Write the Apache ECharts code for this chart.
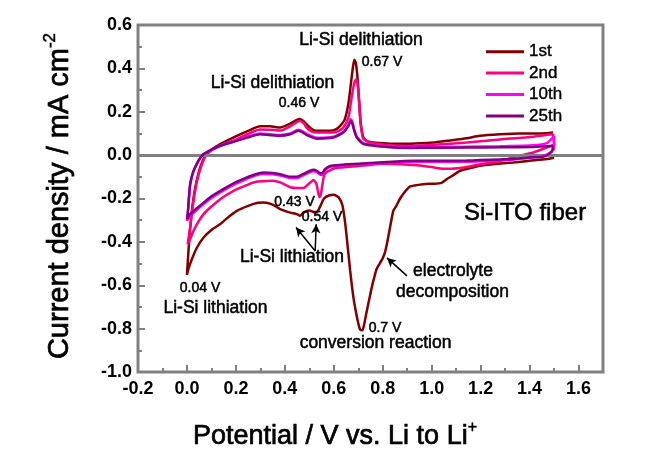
<!DOCTYPE html>
<html><head><meta charset="utf-8">
<script src="https://cdn.jsdelivr.net/npm/echarts/dist/echarts.min.js"></script>
<style>html,body{margin:0;padding:0;background:#fff}#c{width:659px;height:460px}</style>
</head><body><div id="c"></div>
<script>
const seriesNames = ['1st', '2nd', '10th', '25th'];
const seriesColors = ['#800000', '#FF0080', '#FF00FF', '#800080'];
const xTicks = [-0.2, 0.0, 0.2, 0.4, 0.6, 0.8, 1.0, 1.2, 1.4, 1.6];
const yTicks = [-1.0, -0.8, -0.6, -0.4, -0.2, 0.0, 0.2, 0.4, 0.6];

const cycle1 = [
 [1.50,-0.012],[1.47,-0.018],[1.40,-0.026],[1.333,-0.034],[1.25,-0.042],[1.197,-0.049],[1.15,-0.062],[1.116,-0.072],
 [1.085,-0.095],[1.061,-0.111],[1.040,-0.128],[1.010,-0.132],[0.975,-0.133],[0.952,-0.136],[0.930,-0.140],[0.911,-0.145],
 [0.890,-0.170],[0.871,-0.200],[0.855,-0.235],[0.843,-0.257],[0.823,-0.375],[0.810,-0.445],[0.800,-0.475],[0.785,-0.505],
 [0.775,-0.525],[0.765,-0.565],[0.755,-0.611],[0.745,-0.665],[0.735,-0.718],[0.725,-0.775],[0.717,-0.808],[0.708,-0.805],
 [0.700,-0.775],[0.690,-0.720],[0.680,-0.655],[0.667,-0.534],[0.653,-0.380],[0.645,-0.300],[0.635,-0.230],[0.620,-0.195],
 [0.600,-0.183],[0.580,-0.186],[0.560,-0.200],[0.545,-0.235],[0.530,-0.265],[0.517,-0.262],[0.500,-0.255],[0.476,-0.265],
 [0.462,-0.280],[0.449,-0.272],[0.422,-0.265],[0.381,-0.249],[0.350,-0.228],[0.313,-0.219],[0.290,-0.220],[0.250,-0.234],
 [0.204,-0.257],[0.170,-0.285],[0.136,-0.318],[0.100,-0.345],[0.068,-0.380],[0.041,-0.426],[0.020,-0.480],[0.006,-0.525],
 [0.000,-0.552],
 [0.004,-0.480],[0.010,-0.380],[0.020,-0.257],[0.034,-0.149],[0.054,-0.057],[0.075,-0.003],[0.100,0.025],[0.136,0.051],
 [0.204,0.089],[0.250,0.112],[0.299,0.133],[0.340,0.133],[0.381,0.127],[0.422,0.145],[0.445,0.160],[0.463,0.166],
 [0.478,0.155],[0.490,0.140],[0.510,0.120],[0.531,0.112],[0.585,0.112],[0.610,0.120],[0.626,0.135],[0.645,0.165],
 [0.660,0.240],[0.670,0.330],[0.678,0.404],[0.684,0.440],[0.690,0.425],[0.696,0.370],[0.703,0.260],[0.710,0.150],
 [0.721,0.081],[0.740,0.062],[0.762,0.058],[0.830,0.053],[0.911,0.053],[1.007,0.058],[1.061,0.066],[1.143,0.078],
 [1.197,0.089],[1.279,0.096],[1.360,0.100],[1.415,0.100],[1.470,0.101],[1.496,0.104]
];

const cycle2 = [
 [1.496,0.097],[1.50,0.050],[1.47,0.035],[1.415,0.012],[1.333,-0.010],[1.279,-0.028],[1.197,-0.042],[1.143,-0.055],
 [1.080,-0.063],[1.047,-0.063],[1.000,-0.055],[0.939,-0.047],[0.871,-0.042],[0.789,-0.040],[0.748,-0.045],[0.700,-0.050],
 [0.626,-0.057],[0.600,-0.062],[0.585,-0.070],[0.571,-0.078],[0.560,-0.095],[0.553,-0.140],[0.547,-0.180],[0.541,-0.194],
 [0.535,-0.165],[0.528,-0.130],[0.517,-0.115],[0.505,-0.125],[0.490,-0.140],[0.476,-0.152],[0.449,-0.152],[0.422,-0.148],
 [0.381,-0.126],[0.350,-0.118],[0.327,-0.119],[0.300,-0.121],[0.272,-0.126],[0.240,-0.140],[0.204,-0.157],[0.170,-0.178],
 [0.136,-0.203],[0.100,-0.237],[0.068,-0.272],[0.045,-0.310],[0.027,-0.349],[0.012,-0.390],[0.003,-0.411],
 [0.007,-0.380],[0.013,-0.334],[0.020,-0.270],[0.027,-0.211],[0.041,-0.119],[0.061,-0.042],[0.082,0.005],[0.105,0.025],
 [0.136,0.043],[0.204,0.074],[0.250,0.098],[0.299,0.118],[0.340,0.117],[0.381,0.113],[0.422,0.133],[0.445,0.150],
 [0.463,0.157],[0.478,0.145],[0.490,0.125],[0.510,0.108],[0.531,0.104],[0.598,0.104],[0.620,0.112],[0.639,0.127],
 [0.660,0.174],[0.673,0.266],[0.684,0.335],[0.692,0.350],[0.698,0.320],[0.703,0.250],[0.708,0.160],[0.715,0.100],
 [0.721,0.075],[0.748,0.058],[0.830,0.045],[0.911,0.042],[1.007,0.048],[1.143,0.058],[1.279,0.072],[1.415,0.085],
 [1.496,0.097]
];

const cycle10 = [
 [1.50,0.088],[1.50,0.030],[1.47,0.002],[1.415,-0.010],[1.333,-0.020],[1.279,-0.024],[1.197,-0.028],[1.143,-0.030],
 [1.007,-0.031],[0.925,-0.031],[0.871,-0.032],[0.800,-0.036],[0.700,-0.043],[0.626,-0.048],[0.585,-0.054],[0.564,-0.070],
 [0.551,-0.092],[0.541,-0.088],[0.531,-0.078],[0.517,-0.074],[0.503,-0.078],[0.485,-0.088],[0.469,-0.096],[0.449,-0.106],
 [0.422,-0.106],[0.381,-0.094],[0.350,-0.088],[0.313,-0.087],[0.280,-0.094],[0.245,-0.109],[0.200,-0.132],[0.136,-0.172],
 [0.100,-0.198],[0.068,-0.226],[0.040,-0.253],[0.013,-0.281],[0.000,-0.303],
 [0.004,-0.265],[0.007,-0.215],[0.013,-0.140],[0.020,-0.100],[0.027,-0.074],[0.047,-0.027],[0.068,0.004],[0.100,0.026],
 [0.136,0.045],[0.204,0.069],[0.250,0.086],[0.299,0.100],[0.340,0.096],[0.381,0.093],[0.422,0.100],[0.456,0.117],
 [0.475,0.108],[0.490,0.097],[0.531,0.080],[0.598,0.085],[0.639,0.108],[0.660,0.141],[0.669,0.165],[0.676,0.152],
 [0.683,0.120],[0.694,0.085],[0.721,0.054],[0.830,0.039],[0.911,0.036],[1.007,0.037],[1.143,0.039],[1.279,0.041],
 [1.415,0.045],[1.470,0.055],[1.500,0.088]
];

const cycle25 = [
 [1.496,0.043],[1.49,0.015],[1.456,-0.008],[1.415,-0.010],[1.333,-0.018],[1.279,-0.020],[1.197,-0.023],[1.143,-0.025],
 [1.007,-0.026],[0.925,-0.026],[0.871,-0.028],[0.800,-0.033],[0.700,-0.040],[0.626,-0.045],[0.585,-0.050],[0.564,-0.065],
 [0.551,-0.085],[0.541,-0.082],[0.531,-0.072],[0.517,-0.068],[0.503,-0.072],[0.485,-0.082],[0.469,-0.090],[0.449,-0.100],
 [0.422,-0.100],[0.381,-0.088],[0.350,-0.082],[0.313,-0.080],[0.280,-0.088],[0.245,-0.103],[0.200,-0.125],[0.136,-0.165],
 [0.100,-0.190],[0.068,-0.219],[0.040,-0.245],[0.013,-0.272],[0.000,-0.295],
 [0.004,-0.260],[0.007,-0.211],[0.013,-0.134],[0.020,-0.098],[0.027,-0.072],[0.047,-0.026],[0.068,0.005],[0.100,0.025],
 [0.136,0.043],[0.204,0.066],[0.250,0.082],[0.299,0.096],[0.340,0.092],[0.381,0.089],[0.422,0.096],[0.456,0.112],
 [0.475,0.103],[0.490,0.092],[0.531,0.076],[0.598,0.081],[0.639,0.104],[0.660,0.135],[0.669,0.158],[0.676,0.145],
 [0.683,0.115],[0.694,0.081],[0.721,0.051],[0.830,0.036],[0.911,0.033],[1.007,0.034],[1.143,0.035],[1.279,0.036],
 [1.415,0.038],[1.496,0.043]
];

const cycles = [cycle1, cycle2, cycle10, cycle25];

// annotation arrows (data coordinates: tail -> head)
const arrowTail1 = [0.524, -0.442], arrowHead1 = [0.446, -0.334];
const arrowTail2 = [0.524, -0.442], arrowHead2 = [0.528, -0.319];
const arrowTail3 = [0.899, -0.557], arrowHead3 = [0.8175, -0.474];

const FF = '"Liberation Sans", Arial, sans-serif';
const chart = echarts.init(document.getElementById('c'), null, {renderer: 'canvas'});
const fmt = v => { const r = Math.round(v * 10) / 10; return (Math.abs(r) < 1e-9 ? 0 : r).toFixed(1); };
const xLabelSet = new Set(xTicks.map(fmt));
const yLabelSet = new Set(yTicks.map(fmt));

const series = cycles.map((d, i) => ({
  name: seriesNames[i], type: 'line', data: d, xAxisIndex: 0, yAxisIndex: 0,
  showSymbol: false, symbol: 'none', smooth: 0.2,
  lineStyle: {color: seriesColors[i], width: 2.5}, itemStyle: {color: seriesColors[i]},
  z: 3 + i
}));
series[0].markLine = {
  silent: true, animation: false, symbol: ['none', 'arrow'], symbolSize: [7, 9],
  label: {show: false}, lineStyle: {color: '#000', width: 1.5, type: 'solid'},
  data: [
    [{coord: arrowTail1}, {coord: arrowHead1}],
    [{coord: arrowTail2}, {coord: arrowHead2}],
    [{coord: arrowTail3}, {coord: arrowHead3}]
  ]
};
series.push({
  name: 'zero', type: 'line', data: [], z: 2, silent: true,
  markLine: {silent: true, animation: false, symbol: ['none', 'none'], label: {show: false},
    lineStyle: {color: '#808080', width: 3, type: 'solid'}, data: [{yAxis: 0}]}
});

const STROKE = {stroke: '#000', lineWidth: 0.5};
function txt(text, x, y, size) {
  return {type: 'text', x: x, y: y, z: 100, silent: true,
    style: Object.assign({text: text, align: 'center', verticalAlign: 'middle', fill: '#000',
      font: size + 'px ' + FF}, STROKE)};
}

chart.setOption({
  animation: false,
  backgroundColor: '#fff',
  grid: {left: 138, right: 56, top: 25, bottom: 88, show: true, borderColor: '#808080', borderWidth: 3, backgroundColor: 'transparent'},
  legend: {
    data: seriesNames, orient: 'vertical', left: 481, top: 38, icon: 'rect',
    itemWidth: 38, itemHeight: 3, itemGap: 4,
    textStyle: {fontSize: 17, lineHeight: 17, color: '#000', fontFamily: FF, textBorderColor: '#000', textBorderWidth: 0.4}
  },
  xAxis: [{
    type: 'value', min: -0.2, max: 1.7, interval: 0.2, position: 'bottom',
    axisLine: {show: false, onZero: false}, splitLine: {show: false},
    axisTick: {show: true, inside: true, length: 7, lineStyle: {color: '#808080', width: 2}},
    axisLabel: {fontSize: 18, fontWeight: 'bold', color: '#000', fontFamily: FF, margin: 8,
      showMaxLabel: false, formatter: v => xLabelSet.has(fmt(v)) ? fmt(v) : ''}
  }, {
    type: 'value', min: -0.2, max: 1.7, interval: 0.1, position: 'bottom',
    axisLine: {show: false, onZero: false}, splitLine: {show: false}, axisLabel: {show: false},
    axisTick: {show: true, inside: true, length: 4, lineStyle: {color: '#808080', width: 2}}
  }],
  yAxis: [{
    type: 'value', min: -1.0, max: 0.6, interval: 0.2, position: 'left',
    axisLine: {show: false, onZero: false}, splitLine: {show: false},
    axisTick: {show: true, inside: true, length: 7, lineStyle: {color: '#808080', width: 2}},
    minorTick: {show: true, splitNumber: 2, length: 4, lineStyle: {color: '#808080', width: 2}},
    axisLabel: {fontSize: 18, fontWeight: 'bold', color: '#000', fontFamily: FF, margin: 6,
      formatter: v => yLabelSet.has(fmt(v)) ? fmt(v) : ''}
  }],
  series: series,
  graphic: [
    {type: 'text', x: 58, y: 196, rotation: Math.PI / 2, z: 100, silent: true,
     style: {text: '{a|Current density / mA cm}{b|-2}', align: 'center', verticalAlign: 'middle', fill: '#000',
       rich: {a: {fontSize: 29, fontFamily: FF, lineHeight: 32, verticalAlign: 'bottom', fill: '#000', stroke: '#000', lineWidth: 0.7},
              b: {fontSize: 17, fontFamily: FF, lineHeight: 32, verticalAlign: 'top', fill: '#000', stroke: '#000', lineWidth: 0.5}}}},
    {type: 'text', x: 335, y: 435, z: 100, silent: true,
     style: {text: '{a|Potential / V vs. Li to Li}{b|+}', align: 'center', verticalAlign: 'middle', fill: '#000',
       rich: {a: {fontSize: 27, fontFamily: FF, lineHeight: 30, verticalAlign: 'bottom', fill: '#000', stroke: '#000', lineWidth: 0.7},
              b: {fontSize: 16, fontFamily: FF, lineHeight: 30, verticalAlign: 'top', fill: '#000', stroke: '#000', lineWidth: 0.5}}}},
    txt('Li-Si delithiation', 361, 40, 17.5),
    txt('0.67 V', 382, 62, 14),
    txt('Li-Si delithiation', 272.5, 83, 17.5),
    txt('0.46 V', 299, 103, 14),
    txt('0.43 V', 294.5, 202, 14),
    txt('0.54 V', 322, 217, 14),
    txt('Li-Si lithiation', 292, 257, 17.5),
    txt('0.04 V', 200, 288, 14),
    txt('Li-Si lithiation', 215.5, 308, 17.5),
    txt('0.7 V', 385, 328, 14),
    txt('conversion reaction', 375.5, 343, 17.5),
    txt('electrolyte', 453, 271, 17.5),
    txt('decomposition', 452.5, 292, 17.5),
    txt('Si-ITO fiber', 525, 213, 24)
  ]
});
</script>
</body></html>
